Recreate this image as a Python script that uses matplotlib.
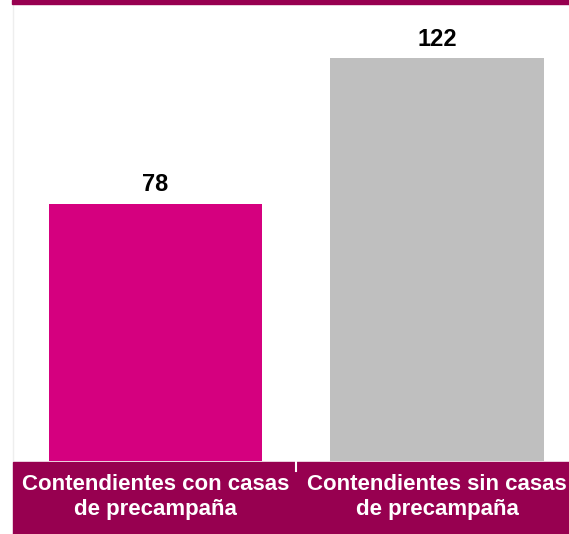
import matplotlib.pyplot as plt
from matplotlib.patches import Rectangle

categories = ["Contendientes con casas\nde precampaña", "Contendientes sin casas\nde precampaña"]
values = [78, 122]
colors = ["#D5007F", "#BFBFBF"]

BAND = "#970050"

plt.rcParams["font.family"] = ["Liberation Sans", "DejaVu Sans"]

W, H = 569, 534
fig = plt.figure(figsize=(W / 100, H / 100), dpi=100)

# plot area in pixels: x 13..569, y 4..461 (from top)
ax = fig.add_axes([13 / W, (H - 461) / H, (W - 13) / W, 457 / H])
x = range(len(values))
ax.bar(x, values, width=0.757, color=colors, zorder=2)
for xi, v in zip(x, values):
    ax.annotate(str(v), (xi, v), xytext=(0, 9), textcoords="offset points",
                ha="center", va="baseline",
                fontsize=17, fontweight="bold", color="black")

ax.set_xlim(-0.506, 1.469)
ax.set_ylim(0, 138.5)
ax.set_xticks([])
ax.set_yticks([])
for s in ["top", "right", "bottom"]:
    ax.spines[s].set_visible(False)
ax.spines["left"].set_color("#EEEEEE")
ax.spines["left"].set_linewidth(1)

# top rule
fig.patches.append(Rectangle((12 / W, (H - 4) / H), 1, 4 / H,
                             transform=fig.transFigure, color=BAND, zorder=0))
# bottom category band
fig.patches.append(Rectangle((13 / W, 0), 1, (H - 462) / H,
                             transform=fig.transFigure, color=BAND, zorder=0))
# separator tick between categories
tick_x = ax.transData.transform((0.5, 0))[0] / W
fig.add_artist(plt.Line2D([tick_x, tick_x], [(H - 462) / H, (H - 471) / H],
                          transform=fig.transFigure, color="white", lw=1.5))

for xi, label in zip(x, categories):
    px = ax.transData.transform((xi, 0))[0] / W
    fig.text(px, (H - 497) / H, label, ha="center", va="center",
             fontsize=16, fontweight="bold", color="white", linespacing=1.3)

fig.savefig("out.png", dpi=100)
